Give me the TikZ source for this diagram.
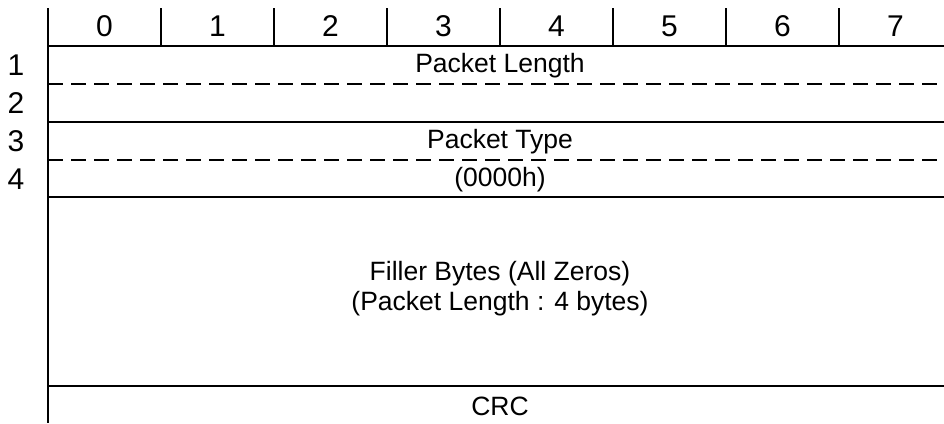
\documentclass[tikz,border=0pt]{standalone}
\usepackage{fontspec}
\setmainfont{Liberation Sans}
\begin{document}
\begin{tikzpicture}[x=1pt,y=-1pt,
  rule/.style={line width=1.5pt,black},
  dashrule/.style={line width=1.5pt,black,dash pattern=on 15pt off 8pt},
  lbl/.style={font=\fontsize{26.5}{30}\selectfont,inner sep=0pt,anchor=center},
  hdr/.style={font=\fontsize{30}{34}\selectfont,inner sep=0pt,anchor=center}]
\useasboundingbox (0,0) rectangle (944,423);
% grid
\coordinate (lt) at (48,8);
\coordinate (lb) at (48,423);
\draw[rule] (lt) -- (lb);
\foreach \i in {1,...,7} {
  \coordinate (ct\i) at ({48+113*\i},8);
  \coordinate (cb\i) at ({48+113*\i},46);
  \draw[rule] (ct\i) -- (cb\i);
}
\foreach \n/\y/\s in {h/46/rule, a/84/dashrule, b/122/rule, c/160/dashrule, d/197/rule, e/386/rule} {
  \coordinate (\n l) at (48,\y);
  \coordinate (\n r) at (944,\y);
  \draw[\s] (\n l) -- (\n r);
}
% header digits
\foreach \i in {0,...,7} {
  \node[hdr] (h\i) at ({104.5+113*\i},26) {\i};
}
% row labels
\foreach \i/\y in {1/65, 2/103, 3/141, 4/179} {
  \node[hdr] (r\i) at (16,\y) {\i};
}
\node[lbl] (plen) at (500,66) {Packet Length};
\node[lbl] (ptype) at (500,142) {Packet Type};
\node[lbl] (pcode) at (500,180) {(0000h)};
\node[lbl] (fill1) at (500,274) {Filler Bytes (All Zeros)};
\node[lbl] (fill2) at (500,304) {(Packet Length : 4 bytes)};
\node[lbl] (crc) at (500,406) {CRC};
\end{tikzpicture}
\end{document}
